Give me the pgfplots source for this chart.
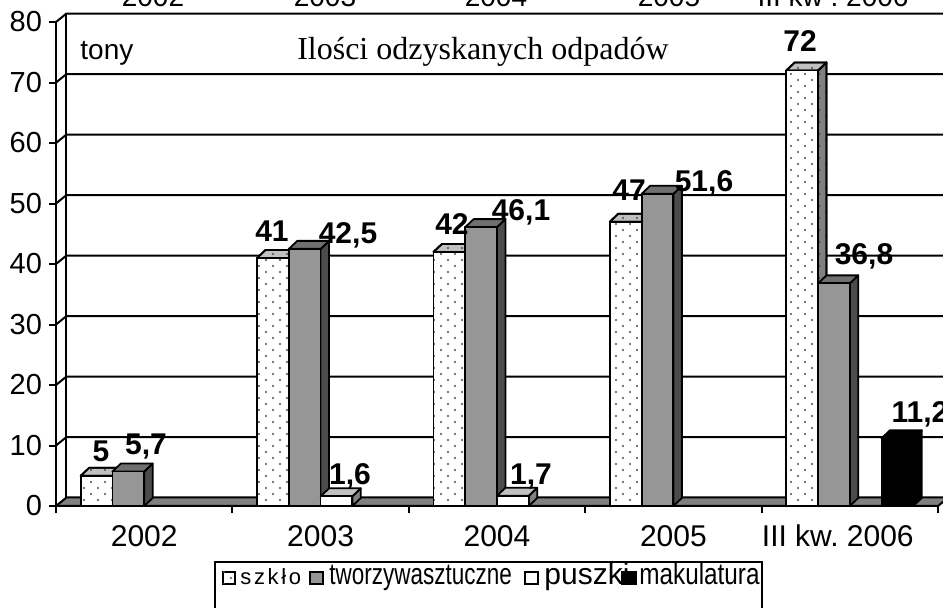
\documentclass[border=0pt]{standalone}
\usepackage{pgfplots}
\pgfplotsset{compat=1.18}
\usepackage{fontspec}
\setmainfont{Liberation Sans}
\newfontfamily\seriffont{Liberation Serif}
\usetikzlibrary{patterns}
\usepackage{graphicx}

\pgfdeclarepatternformonly{sparsedots}{\pgfqpoint{-0.7pt}{-0.7pt}}{\pgfqpoint{4.2pt}{3.7pt}}{\pgfqpoint{7pt}{6pt}}{%
  \pgfpathcircle{\pgfqpoint{0pt}{0pt}}{0.55pt}%
  \pgfpathcircle{\pgfqpoint{3.5pt}{3pt}}{0.55pt}%
  \pgfusepath{fill}}

\definecolor{szTop}{RGB}{192,192,192}
\definecolor{szSide}{RGB}{128,128,128}
\definecolor{twFront}{RGB}{150,150,150}
\definecolor{twTop}{RGB}{112,112,112}
\definecolor{twSide}{RGB}{76,76,76}
\definecolor{floorc}{RGB}{128,128,128}

\tikzset{
 face/.style={draw=black, line width=0.9pt, line join=round},
 szF/.style={face, fill=white, postaction={pattern=sparsedots, pattern color=black!70}},
 szT/.style={face, fill=szTop, postaction={pattern=sparsedots, pattern color=black!70}},
 szS/.style={face, fill=szSide, postaction={pattern=sparsedots, pattern color=black!80}},
 twF/.style={face, fill=twFront},
 twT/.style={face, fill=twTop},
 twS/.style={face, fill=twSide},
 puF/.style={face, fill=white},
 puT/.style={face, fill=szTop},
 puS/.style={face, fill=szSide},
 maF/.style={face, fill=black},
 maT/.style={face, fill=black},
 maS/.style={face, fill=black},
}

\newcommand\bw{0.18}
\newcommand\ddx{0.048}
\newcommand\ddy{1.32}
% #1 left edge, #2 value, #3 front, #4 top, #5 side
\newcommand{\tbar}[5]{%
 \pgfmathsetmacro\tbXa{#1}%
 \pgfmathsetmacro\tbXb{#1+\bw}%
 \pgfmathsetmacro\tbXc{#1+\bw+\ddx}%
 \pgfmathsetmacro\tbXd{#1+\ddx}%
 \pgfmathsetmacro\tbYa{#2}%
 \pgfmathsetmacro\tbYb{#2+\ddy}%
 \addplot[#5] coordinates {(\tbXb,0) (\tbXc,\ddy) (\tbXc,\tbYb) (\tbXb,\tbYa)} -- cycle;
 \addplot[#4] coordinates {(\tbXa,\tbYa) (\tbXd,\tbYb) (\tbXc,\tbYb) (\tbXb,\tbYa)} -- cycle;
 \addplot[#3] coordinates {(\tbXa,0) (\tbXa,\tbYa) (\tbXb,\tbYa) (\tbXb,0)} -- cycle;
}

\begin{document}
\frenchspacing
\begin{tikzpicture}
\path[use as bounding box] (0,0) rectangle (471.5pt,-304pt);
\clip (0,0) rectangle (471.5pt,-304pt);
\fill[white] (0,0) rectangle (471.5pt,-304pt);
\begin{axis}[
  at={(28pt,-253pt)}, anchor=south west,
  width=441pt, height=242pt, scale only axis,
  xmin=-0.5, xmax=4.5, ymin=0, ymax=80,
  clip=false, no markers,
  axis lines*=left,
  axis line style={line width=1pt},
  tick align=outside,
  major tick length=3.5pt,
  ytick={0,10,...,80},
  y tick style={line width=1pt, black},
  xtick={0,1,2,3,4},
  xticklabels={2002,2003,2004,2005,III kw. 2006\hspace*{12pt}},
  x tick style={draw=none},
  /pgf/number format/assume math mode=true,
  yticklabel style={font=\fontsize{14.5}{16}\selectfont},
  xticklabel style={font=\fontsize{15}{17}\selectfont, yshift=-2.5pt},
]
% back wall grid lines and side wall diagonals
\pgfplotsinvokeforeach{10,20,...,80}{
  \draw[line width=1pt] (axis cs:-0.5,#1) -- (axis cs:-0.4405,{#1+1.405}) -- (axis cs:4.6,{#1+1.405});
}
\draw[line width=1pt] (axis cs:-0.4405,1.405) -- (axis cs:-0.4405,81.405);
% floor
\filldraw[fill=floorc, draw=black, line width=1pt] (axis cs:-0.5,0) -- (axis cs:4.5,0) -- (axis cs:4.5595,1.405) -- (axis cs:-0.4405,1.405) -- cycle;
% category separator ticks
\draw[line width=1pt] (axis cs:-0.5,0) -- (axis cs:-0.5,-1.16);
\draw[line width=1pt] (axis cs:0.5,0) -- (axis cs:0.5,-1.16);
\draw[line width=1pt] (axis cs:1.5,0) -- (axis cs:1.5,-1.16);
\draw[line width=1pt] (axis cs:2.5,0) -- (axis cs:2.5,-1.16);
\draw[line width=1pt] (axis cs:3.5,0) -- (axis cs:3.5,-1.16);
\draw[line width=1pt] (axis cs:4.5,0) -- (axis cs:4.5,-1.16);
% bars: szklo, tworzywa sztuczne, puszki, makulatura
\tbar{-0.36}{5}{szF}{szT}{szS}
\tbar{-0.18}{5.7}{twF}{twT}{twS}
\tbar{0.64}{41}{szF}{szT}{szS}
\tbar{0.82}{42.5}{twF}{twT}{twS}
\tbar{1.00}{1.6}{puF}{puT}{puS}
\tbar{1.64}{42}{szF}{szT}{szS}
\tbar{1.82}{46.1}{twF}{twT}{twS}
\tbar{2.00}{1.7}{puF}{puT}{puS}
\tbar{2.64}{47}{szF}{szT}{szS}
\tbar{2.82}{51.6}{twF}{twT}{twS}
\tbar{3.64}{72}{szF}{szT}{szS}
\tbar{3.82}{36.8}{twF}{twT}{twS}
\tbar{4.18}{11.2}{maF}{maT}{maS}
\end{axis}

\begin{scope}[x=0.5pt, y=-0.5pt]
% cut-off labels at the top
\begin{scope}[every node/.style={anchor=base, font=\fontsize{14}{16}\selectfont, inner sep=0pt}]
\node at (153,7) {2002};
\node at (325,7) {2003};
\node at (496,7) {2004};
\node at (669,7) {2005};
\node at (833,7) {III kw . 2006};
\end{scope}
\node[anchor=base west, inner sep=0pt, font=\fontsize{14}{16}\selectfont] at (80,60) {tony};
\node[anchor=base, inner sep=0pt, font=\seriffont\fontsize{16}{18}\selectfont] at (483,60) {Ilości odzyskanych odpadów};
% data labels
\begin{scope}[every node/.style={anchor=base, inner sep=0pt, font=\fontsize{15}{17}\selectfont\bfseries}]
\node at (101,462) {5};
\node at (146,455) {5,7};
\node at (272,242) {41};
\node at (348,244) {42,5};
\node at (350,485) {1,6};
\node at (452,235) {42};
\node at (521,221) {46,1};
\node at (531,485) {1,7};
\node at (629,201) {47};
\node at (704,192) {51,6};
\node at (800,52) {72};
\node at (864,265) {36,8};
\node at (920,423) {11,2};
\end{scope}
% legend
\draw[line width=0.8pt, fill=white] (215,562) rectangle (762,614);
\draw[line width=0.6pt, fill=white, postaction={pattern=sparsedots, pattern color=black!70}] (223,572) rectangle (235,584);
\node[anchor=base west, inner sep=0pt, font=\fontsize{11}{13}\selectfont\addfontfeatures{LetterSpace=12}] at (240,585) {szkło};
\draw[line width=0.6pt, fill=twFront] (310,572) rectangle (323,584);
\node[anchor=base west, inner sep=0pt, font=\fontsize{15}{17}\selectfont] at (329,585) {\scalebox{0.75}[1]{tworzywasztuczne}};
\draw[line width=0.6pt, fill=white] (525,572) rectangle (538,584);
\node[anchor=base west, inner sep=0pt, font=\fontsize{15}{17}\selectfont] at (544,585) {puszki};
\draw[line width=0.6pt, fill=black] (622,572) rectangle (636,584);
\node[anchor=base west, inner sep=0pt, font=\fontsize{15}{17}\selectfont] at (639,585) {\scalebox{0.81}[1]{makulatura}};
\end{scope}
\end{tikzpicture}
\end{document}
